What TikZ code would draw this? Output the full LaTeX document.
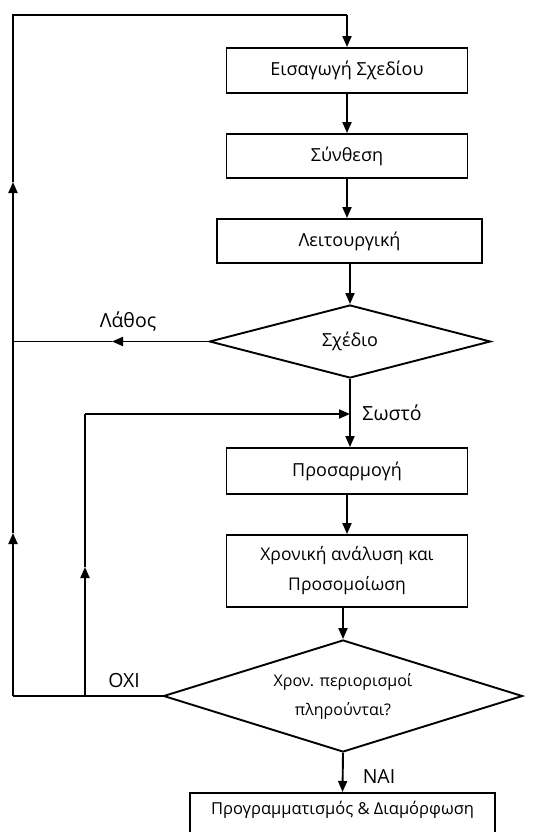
\documentclass[tikz,border=0pt]{standalone}
\usepackage{fontspec}
\setmainfont{Open Sans}
\usetikzlibrary{shapes.geometric,arrows.meta}
\begin{document}
\begin{tikzpicture}[x=1pt,y=1pt,
  line width=1.9pt,
  every node/.style={font=\fontsize{18}{21}\selectfont},
  stepbox/.style={draw,rectangle,inner sep=0pt,align=center},
  choice/.style={draw,diamond,inner sep=0pt,align=center},
  arr/.style={-{Triangle[length=11pt,width=9pt]}},
  lbl/.style={inner sep=0pt,font=\fontsize{19.5}{23}\selectfont}]
\useasboundingbox (0,0) rectangle (547,-832);

% process boxes
\node[stepbox,minimum width=241pt,minimum height=45pt] (intro) at (347,-70.5) {Εισαγωγή Σχεδίου};
\node[stepbox,minimum width=241pt,minimum height=44pt] (synth) at (347,-156) {Σύνθεση};
\node[stepbox,minimum width=265pt,minimum height=44pt] (func) at (349.5,-241) {Λειτουργική};
\node[choice,minimum width=281pt,minimum height=73pt,aspect=3.85] (design) at (350,-341.5) {Σχέδιο};
\node[stepbox,minimum width=241pt,minimum height=46pt] (fit) at (347,-471) {Προσαρμογή};
\node[stepbox,minimum width=241pt,minimum height=72pt,font=\fontsize{17.5}{30}\selectfont] (timing) at (347,-571) {Χρονική ανάλυση και\\Προσομοίωση};
\node[choice,minimum width=359pt,minimum height=112pt,aspect=3.2,font=\fontsize{16}{29}\selectfont] (check) at (343,-696) {Χρον. περιορισμοί\\πληρούνται?};
\node[stepbox,minimum width=305pt,minimum height=44pt,anchor=north] (prog) at (342.5,-792) {};
\node[font=\fontsize{16.5}{20}\selectfont] (progtext) at (342.5,-810) {Προγραμματισμός \& Διαμόρφωση};

% branch labels
\node[lbl] (lwrong) at (128,-322) {Λάθος};
\node[lbl] (lright) at (392,-413) {Σωστό};
\node[lbl] (lno) at (124,-681) {ΟΧΙ};
\node[lbl] (lyes) at (379,-777) {ΝΑΙ};

% main flow
\draw[arr] (intro.south) -- (intro.south |- synth.north);
\draw[arr] (synth.south) -- (synth.south |- func.north);
\draw[arr] (design.north |- func.south) -- (design.north);
\draw[arr] (design.south) -- (design.south |- fit.north);
\draw[arr] (fit.south) -- (fit.south |- timing.north);
\draw[arr] (check.north |- timing.south) -- (check.north);
\draw[arr] (check.south) -- (prog.north);

% outer feedback loop
\coordinate (lb) at (13,-696);
\coordinate (lm1) at (13,-533);
\coordinate (lw) at (13,-341.5);
\coordinate (lm2) at (13,-182);
\coordinate (lt) at (13,-15);
\coordinate (rt) at (347,-15);
\draw (check.west) -- (lb);
\draw[arr] (lb) -- (lm1);
\draw (lm1) -- (lw);
\draw[arr] (lw) -- (lm2);
\draw (lm2) -- (lt) -- (rt);
\draw[arr] (rt) -- (intro.north);

% design error branch
\coordinate (em) at (112,-341.5);
\draw[arr] (design.west) -- (em);
\draw (em) -- (lw);

% inner feedback loop
\coordinate (ib) at (85,-696);
\coordinate (im) at (85,-567);
\coordinate (it) at (85,-414);
\coordinate (ir) at (350,-414);
\draw[arr] (ib) -- (im);
\draw (im) -- (it);
\draw[arr] (it) -- (ir);
\end{tikzpicture}
\end{document}
